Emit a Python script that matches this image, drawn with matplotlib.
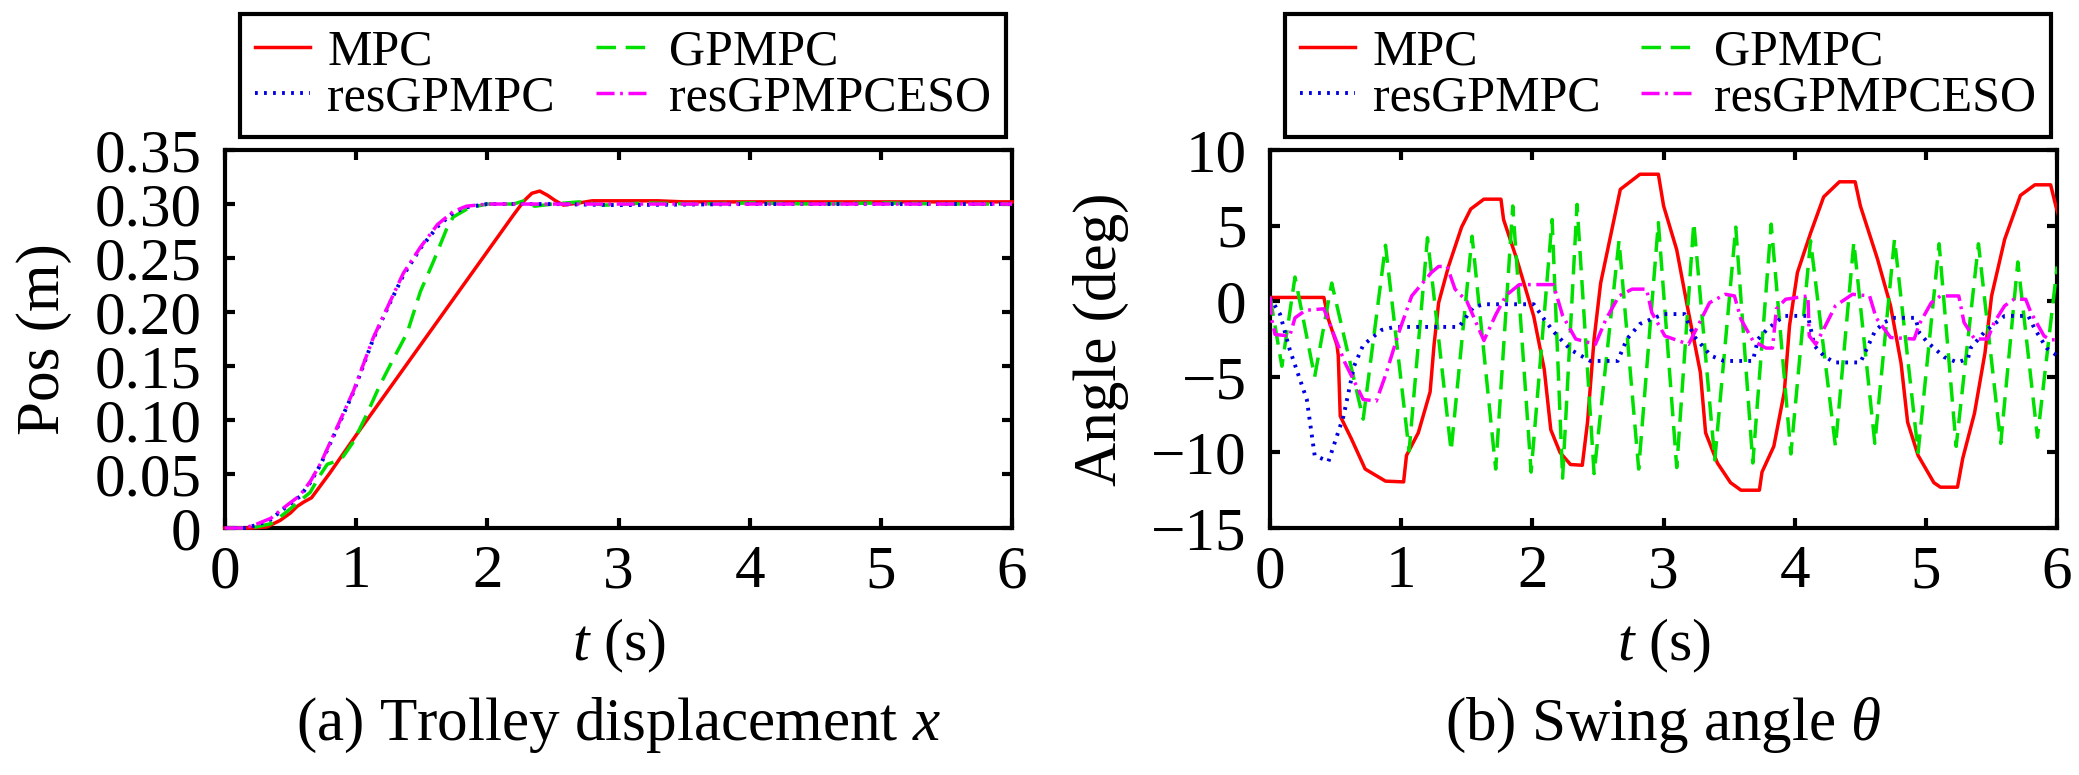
import numpy as np
import matplotlib
matplotlib.use("Agg")
import matplotlib.pyplot as plt

plt.rcParams['font.family'] = ['Liberation Serif', 'DejaVu Serif']
plt.rcParams['mathtext.fontset'] = 'custom'
plt.rcParams['mathtext.rm'] = 'Liberation Serif'
plt.rcParams['mathtext.it'] = 'Liberation Serif:italic'
plt.rcParams['lines.scale_dashes'] = False

# ---- data ----
labels = ["MPC", "GPMPC", "resGPMPC", "resGPMPCESO"]

# (a) trolley displacement
pos_mpc_t = [0, 0.2, 0.32, 0.42, 0.5, 0.55, 0.6, 0.66, 0.8, 1.0, 1.2, 1.4, 1.6, 1.8, 2.0, 2.2,
             2.28, 2.34, 2.40, 2.46, 2.52, 2.58, 2.7, 2.8, 3.0, 3.3, 3.5, 4.0, 5.0, 6.0]
pos_mpc = [0, 0, 0.001, 0.007, 0.014, 0.020, 0.024, 0.028, 0.051, 0.086, 0.120, 0.154, 0.188,
           0.222, 0.256, 0.290, 0.303, 0.310, 0.312, 0.308, 0.303, 0.299, 0.301, 0.303, 0.303,
           0.303, 0.302, 0.302, 0.302, 0.302]

pos_gp_t = [0, 0.2, 0.35, 0.45, 0.55, 0.65, 0.72, 0.78, 0.85, 0.9, 0.98, 1.08, 1.18, 1.29, 1.39,
            1.49, 1.59, 1.69, 1.74, 1.84, 1.92, 2.0, 2.2, 2.28, 2.36, 2.5, 2.7, 2.9, 3.2, 3.6,
            4.0, 4.5, 5.0, 5.5, 6.0]
pos_gp = [0, 0, 0.004, 0.013, 0.023, 0.033, 0.048, 0.059, 0.062, 0.066, 0.080, 0.105, 0.132,
          0.158, 0.181, 0.219, 0.247, 0.277, 0.288, 0.295, 0.298, 0.300, 0.300, 0.303, 0.298,
          0.300, 0.302, 0.299, 0.301, 0.300, 0.301, 0.300, 0.301, 0.300, 0.300]

pos_res_t = [0, 0.15, 0.25, 0.35, 0.44, 0.57, 0.65, 0.73, 0.85, 0.98, 1.13, 1.26, 1.36, 1.49,
             1.62, 1.74, 1.84, 2.0, 2.5, 3.0, 4.0, 5.0, 6.0]
pos_res = [0, 0, 0.003, 0.008, 0.017, 0.029, 0.042, 0.059, 0.091, 0.126, 0.175, 0.209, 0.234,
           0.259, 0.279, 0.292, 0.297, 0.300, 0.300, 0.299, 0.300, 0.300, 0.300]

pos_eso_t = [0, 0.15, 0.25, 0.35, 0.44, 0.57, 0.65, 0.73, 0.85, 0.98, 1.13, 1.26, 1.36, 1.49,
             1.62, 1.74, 1.84, 2.0, 2.5, 3.0, 4.0, 5.0, 6.0]
pos_eso = [0, 0, 0.004, 0.009, 0.018, 0.030, 0.043, 0.060, 0.092, 0.127, 0.176, 0.210, 0.236,
           0.260, 0.281, 0.293, 0.298, 0.300, 0.300, 0.300, 0.300, 0.300, 0.300]

# (b) swing angle (deg)
ang_mpc_t = [0, 0.41, 0.445, 0.51, 0.52, 0.535, 0.62, 0.725, 0.88, 1.018, 1.04, 1.13, 1.22, 1.25,
             1.285, 1.36, 1.46, 1.53, 1.63, 1.76, 1.78, 1.88, 2.01, 2.09, 2.14, 2.21, 2.29, 2.38,
             2.42, 2.47, 2.52, 2.60, 2.67, 2.82, 2.96, 3.00, 3.10, 3.18, 3.28, 3.32, 3.41, 3.51,
             3.59, 3.73, 3.75, 3.84, 3.92, 3.96, 4.02, 4.12, 4.22, 4.34, 4.46, 4.50, 4.63, 4.73,
             4.81, 4.86, 4.94, 5.06, 5.11, 5.24, 5.28, 5.37, 5.45, 5.50, 5.60, 5.72, 5.83, 5.95,
             5.99, 6.02]
ang_mpc = [0.25, 0.25, -1.2, -2.9, -3.6, -7.6, -9.1, -11.1, -11.9, -11.95, -10.2, -8.7, -6.0, -2.9,
           -0.1, 2.3, 4.9, 6.1, 6.75, 6.75, 5.4, 2.8, -1.0, -4.5, -8.5, -10.0, -10.8, -10.85,
           -8.0, -2.5, 1.2, 4.5, 7.4, 8.4, 8.4, 6.3, 3.4, -0.3, -4.7, -8.7, -10.7, -12.0,
           -12.5, -12.5, -11.3, -9.6, -6.0, -1.6, 1.9, 4.5, 6.9, 7.9, 7.9, 6.3, 2.8, -0.3,
           -4.1, -8.0, -10.2, -12.0, -12.3, -12.3, -10.4, -7.4, -3.4, 0.35, 4.1, 7.0, 7.7, 7.7,
           6.3, 5.4]

ang_gp_t = [0, 0.09, 0.19, 0.34, 0.47, 0.71, 0.88, 1.06, 1.20, 1.38, 1.54, 1.72, 1.85, 1.99,
            2.15, 2.23, 2.34, 2.47, 2.66, 2.81, 2.96, 3.10, 3.23, 3.39, 3.55, 3.68, 3.82, 3.97,
            4.12, 4.31, 4.45, 4.61, 4.76, 4.94, 5.10, 5.23, 5.40, 5.57, 5.70, 5.85, 6.0]
ang_gp = [0.3, -4.3, 1.6, -5.0, 1.2, -7.8, 3.7, -9.9, 4.2, -9.9, 4.3, -11.1, 6.3, -11.3,
          5.4, -11.7, 6.4, -11.4, 4.0, -11.1, 5.2, -11.0, 5.2, -10.5, 4.9, -10.7, 5.1, -10.1,
          4.0, -9.6, 3.9, -9.4, 4.1, -10.0, 3.8, -9.6, 3.8, -9.4, 2.6, -9.0, 2.3]

ang_res_t = [0, 0.076, 0.15, 0.28, 0.34, 0.445, 0.56, 0.64, 0.71, 0.85, 0.95, 1.44, 1.49, 1.55,
             1.63, 2.01, 2.09, 2.16, 2.29, 2.44, 2.65, 2.72, 2.82, 3.0, 3.16, 3.23, 3.36, 3.46,
             3.68, 3.72, 3.79, 3.87, 3.92, 4.10, 4.15, 4.22, 4.30, 4.50, 4.61, 4.68, 4.76, 4.92,
             4.95, 5.01, 5.14, 5.24, 5.32, 5.34, 5.45, 5.60, 5.78, 5.83, 5.92, 6.0]
ang_res = [0.25, -0.86, -3.2, -6.5, -10.2, -10.6, -7.6, -4.3, -2.9, -1.9, -1.7, -1.7, -1.1, -0.4,
           -0.2, -0.2, -1.2, -2.0, -3.2, -3.95, -3.95, -2.5, -1.5, -0.85, -0.85, -2.3, -3.6, -3.95,
           -3.95, -2.5, -1.85, -1.3, -0.97, -0.97, -2.95, -3.6, -4.05, -4.05, -2.0, -1.4, -1.1,
           -1.1, -2.1, -2.7, -3.7, -4.05, -3.8, -3.1, -2.0, -0.97, -0.97, -1.85, -3.1, -3.6]

ang_eso_t = [0, 0.01, 0.038, 0.15, 0.19, 0.27, 0.41, 0.50, 0.57, 0.67, 0.71, 0.81, 0.88, 0.98,
             1.08, 1.23, 1.285, 1.35, 1.41, 1.50, 1.63, 1.72, 1.80, 1.90, 2.16, 2.23, 2.33, 2.48,
             2.56, 2.66, 2.76, 2.87, 2.91, 3.01, 3.19, 3.24, 3.35, 3.47, 3.54, 3.59, 3.68, 3.78,
             3.83, 3.86, 3.93, 4.10, 4.11, 4.16, 4.22, 4.31, 4.44, 4.57, 4.62, 4.73, 4.91, 4.95,
             5.04, 5.11, 5.25, 5.29, 5.37, 5.47, 5.52, 5.60, 5.67, 5.76, 5.80, 5.90, 5.95, 6.0]
ang_eso = [0.3, -1.1, -2.2, -2.3, -1.1, -0.6, -0.5, -2.5, -4.05, -5.8, -6.5, -6.6, -4.9, -2.1,
           0.35, 1.9, 2.3, 2.3, 0.8, 0.0, -2.6, -0.9, 0.4, 1.1, 1.1, -0.95, -2.5, -2.85,
           -1.2, 0.35, 0.8, 0.8, -0.75, -2.3, -2.85, -2.0, -0.1, 0.46, 0.35, -1.2, -2.6, -3.1,
           -3.1, -0.5, 0.13, 0.35, -2.3, -2.85, -1.85, -0.3, 0.46, 0.35, -1.1, -2.4, -2.5, -1.5,
           -0.1, 0.35, 0.35, -1.4, -2.5, -2.5, -1.4, -0.3, 0.13, 0.13, -0.75, -2.3, -2.55, -2.55]

t_ticks = [0, 1, 2, 3, 4, 5, 6]
pos_ticks = [0, 0.05, 0.10, 0.15, 0.20, 0.25, 0.30, 0.35]
pos_ticklabels = ["0", "0.05", "0.10", "0.15", "0.20", "0.25", "0.30", "0.35"]
ang_ticks = [-15, -10, -5, 0, 5, 10]

# ---- styling ----
colors = ["#ff0000", "#00e000", "#0000e0", "#ff00ff"]
styles = ["-", (0, (14, 7)), (0, (2, 4.5)), (0, (13, 4, 2, 4))]
widths = [2.5, 2.5, 2.8, 2.5]

fig = plt.figure(figsize=(20.79, 7.75), dpi=100)
ax1 = fig.add_axes([0.1082, 0.3187, 0.3786, 0.4877])
ax2 = fig.add_axes([0.6109, 0.3187, 0.3786, 0.4877])


def style_axes(ax):
    for s in ax.spines.values():
        s.set_linewidth(3.0)
    ax.tick_params(direction="in", top=True, right=True, length=7, width=3.0,
                   labelsize=44)
    ax.tick_params(axis="y", pad=17)
    ax.tick_params(axis="x", pad=12)
    ax.set_xlim(0, 6)
    ax.set_xticks(t_ticks)


series_a = [(pos_mpc_t, pos_mpc), (pos_gp_t, pos_gp), (pos_res_t, pos_res), (pos_eso_t, pos_eso)]
series_b = [(ang_mpc_t, ang_mpc), (ang_gp_t, ang_gp), (ang_res_t, ang_res), (ang_eso_t, ang_eso)]

for ax, series, clip in ((ax1, series_a, False), (ax2, series_b, True)):
    lines = []
    for (t, y), c, ls, w, lab in zip(series, colors, styles, widths, labels):
        ln, = ax.plot(t, y, color=c, linestyle=ls, linewidth=w, label=lab,
                      clip_on=clip, zorder=3)
        lines.append(ln)
    style_axes(ax)
    # legend rows: MPC / GPMPC, then resGPMPC / resGPMPCESO
    order = [0, 2, 1, 3]
    leg = ax.legend([lines[i] for i in order], [labels[i] for i in order],
                    loc="lower left", bbox_to_anchor=(0.019, 1.035, 0.973, 0.2), mode="expand",
                    ncol=2, fontsize=36, frameon=True, fancybox=False, edgecolor="black",
                    framealpha=1, handlelength=1.1, handletextpad=0.35, labelspacing=0.0,
                    columnspacing=1.0, borderpad=0.3, borderaxespad=0.0)
    leg.get_frame().set_linewidth(3.0)
    ax.set_xlabel("$t$ (s)", fontsize=43)
    ax.xaxis.set_label_coords(0.5, -0.235)

ax1.set_ylim(0, 0.35)
ax1.set_yticks(pos_ticks)
ax1.set_yticklabels(pos_ticklabels)
ax1.set_ylabel("Pos (m)", fontsize=44)
ax1.yaxis.set_label_coords(-0.194, 0.5)

ax2.set_ylim(-15, 10)
ax2.set_yticks(ang_ticks)
ax2.set_ylabel("Angle (deg)", fontsize=44)
ax2.yaxis.set_label_coords(-0.179, 0.5)

fig.text(0.1082 + 0.3786 / 2, 0.045, "(a) Trolley displacement $x$", fontsize=44,
         ha="center", va="baseline")
fig.text(0.6109 + 0.3786 / 2, 0.045, r"(b) Swing angle $\theta$", fontsize=44,
         ha="center", va="baseline")

fig.savefig("out.png", dpi=100)
